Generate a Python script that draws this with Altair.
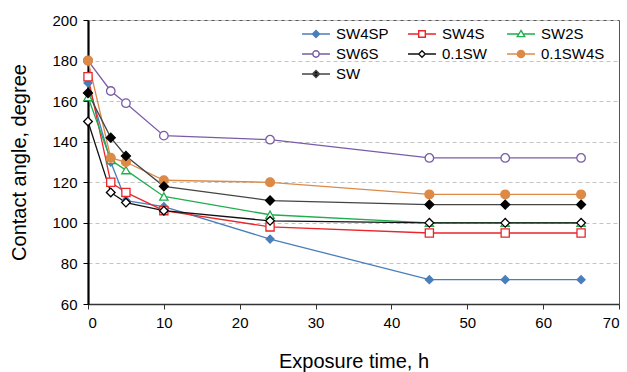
import altair as alt
import pandas as pd

# Exposure times (h) at which contact angles were measured
hours = [0, 3, 5, 10, 24, 45, 55, 65]

series_names = ["SW4SP", "SW4S", "SW2S", "SW6S", "0.1SW", "0.1SW4S", "SW"]

# Contact angle (degree) for each brine
sw4sp = [169, 130, 111, 108, 92, 72, 72, 72]
sw4s = [172, 120, 115, 106, 98, 95, 95, 95]
sw2s = [162, 131, 126, 113, 104, 100, 100, 100]
sw6s = [180, 165, 159, 143, 141, 132, 132, 132]
sw_01 = [150, 115, 110, 106, 101, 100, 100, 100]
sw_01_4s = [180, 132, 130, 121, 120, 114, 114, 114]
sw = [164, 142, 133, 118, 111, 109, 109, 109]

series_values = [sw4sp, sw4s, sw2s, sw6s, sw_01, sw_01_4s, sw]

# Styling per series
line_colors = ["#4a7ebb", "#e8262b", "#1fad4e", "#7a5ca6", "#111111", "#dd8a47", "#444444"]
marker_strokes = ["#4a7ebb", "#e8262b", "#1fad4e", "#7a5ca6", "#000000", "#dd8a47", "#000000"]
marker_fills = ["#4a7ebb", "#ffffff", "#ffffff", "#ffffff", "#ffffff", "#dd8a47", "#000000"]
marker_shapes = ["diamond", "square", "triangle-up", "circle", "diamond", "circle", "diamond"]
marker_sizes = [64, 81, 72, 81, 56, 121, 70]

# Legend symbols: a short line with the series marker in the middle
legend_paths = [
    "M-1.27,0H1.27M0,-0.32L0.32,0L0,0.32L-0.32,0Z",
    "M-1.27,0H-0.3M0.3,0H1.27M-0.3,-0.3H0.3V0.3H-0.3Z",
    "M-1.27,0H-0.24M0.24,0H1.27M0,-0.32L0.34,0.24H-0.34Z",
    "M-1.27,0H-0.29M0.29,0H1.27M0.29,0A0.29,0.29 0 1,1 -0.29,0A0.29,0.29 0 1,1 0.29,0Z",
    "M-1.27,0H-0.3M0.3,0H1.27M0,-0.3L0.3,0L0,0.3L-0.3,0Z",
    "M-1.27,0H1.27M0.33,0A0.33,0.33 0 1,1 -0.33,0A0.33,0.33 0 1,1 0.33,0Z",
    "M-1.27,0H1.27M0,-0.32L0.32,0L0,0.32L-0.32,0Z",
]

rows = []
for name, vals in zip(series_names, series_values):
    for h, v in zip(hours, vals):
        rows.append({"hours": h, "angle": v, "series": name})
df = pd.DataFrame(rows)

FONT = "Liberation Sans"

x_enc = alt.X(
    "hours:Q",
    scale=alt.Scale(domain=[0, 70], nice=False),
    axis=alt.Axis(
        values=list(range(0, 71, 10)),
        title="Exposure time, h",
        grid=False,
        domainColor="#333333",
        domainWidth=1.5,
        tickColor="#333333",
        tickSize=5,
        labelPadding=6,
        titlePadding=21,
    ),
)
y_enc = alt.Y(
    "angle:Q",
    scale=alt.Scale(domain=[60, 200], nice=False),
    axis=alt.Axis(
        values=list(range(60, 201, 20)),
        title="Contact angle, degree",
        grid=True,
        gridColor="#c4c4c4",
        gridDash=[4, 3],
        gridWidth=1,
        domainColor="#000000",
        domainWidth=2.2,
        tickColor="#000000",
        tickSize=5,
        labelPadding=6,
        titlePadding=22,
    ),
)

base = alt.Chart(df)

lines = base.mark_line(strokeWidth=1.3).encode(
    x=x_enc,
    y=y_enc,
    color=alt.Color("series:N", scale=alt.Scale(domain=series_names, range=line_colors), legend=None),
)

points = base.mark_point(opacity=1, strokeWidth=1.3).encode(
    x=x_enc,
    y=y_enc,
    shape=alt.Shape("series:N", scale=alt.Scale(domain=series_names, range=marker_shapes), legend=None),
    stroke=alt.Stroke("series:N", scale=alt.Scale(domain=series_names, range=marker_strokes), legend=None),
    fill=alt.Fill("series:N", scale=alt.Scale(domain=series_names, range=marker_fills), legend=None),
    size=alt.Size("series:N", scale=alt.Scale(domain=series_names, range=marker_sizes), legend=None),
)

legend_style = dict(
    title=None,
    orient="none",
    direction="horizontal",
    legendX=216,
    legendY=2,
    columns=3,
    symbolSize=484,
    symbolStrokeWidth=1.4,
    labelFontSize=15,
    labelFont=FONT,
    labelColor="#000000",
    labelOffset=8,
    rowPadding=0,
    columnPadding=16,
    padding=0,
)

legend_layer = base.transform_filter("false").mark_point(opacity=1, strokeWidth=1.4).encode(
    x=x_enc,
    y=y_enc,
    shape=alt.Shape("series:N", scale=alt.Scale(domain=series_names, range=legend_paths),
                    legend=alt.Legend(**legend_style)),
    stroke=alt.Stroke("series:N", scale=alt.Scale(domain=series_names, range=line_colors),
                      legend=alt.Legend(**legend_style)),
    fill=alt.Fill("series:N", scale=alt.Scale(domain=series_names, range=marker_fills),
                  legend=alt.Legend(**legend_style)),
)

chart = (
    alt.layer(lines, points, legend_layer)
    .resolve_scale(shape="independent", stroke="independent", fill="independent", size="independent")
    .properties(
        width=531,
        height=284,
        autosize=alt.AutoSizeParams(type="none"),
        padding={"left": 88, "top": 20, "right": 8, "bottom": 68},
    )
    .configure(font=FONT)
    .configure_view(stroke="#555555", strokeWidth=1)
    .configure_axis(
        labelFont=FONT,
        labelFontSize=15,
        labelColor="#000000",
        titleFont=FONT,
        titleFontSize=20,
        titleFontWeight="normal",
        titleColor="#000000",
    )
)

chart.save("out.html", embed_options={"renderer": "svg", "actions": False})
